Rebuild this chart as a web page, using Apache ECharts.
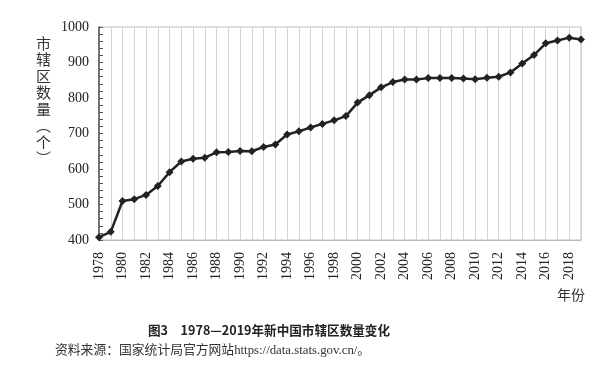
<!DOCTYPE html>
<html><head><meta charset="utf-8">
<script src="https://cdn.jsdelivr.net/npm/echarts@6/dist/echarts.min.js"></script>
<style>html,body{margin:0;padding:0;background:#fff}#c{width:614px;height:371px}</style>
</head><body><div id="c"></div>
<script>
var years = [];
for (var y = 1978; y <= 2019; y++) years.push(String(y));
var counts = [408, 423, 510, 515, 527, 552, 591, 621, 629, 632, 647, 648, 651, 650, 662, 669, 697, 706, 717, 727, 737, 749, 787, 808, 830, 845, 852, 852, 856, 856, 856, 855, 853, 857, 860, 872, 897, 921, 954, 962, 970, 965];
var yTicks = { min: 400, max: 1000, interval: 100 };
var yName = '市辖区数量︵个︶';
var xName = '年份';
var title = '图3　1978—2019年新中国市辖区数量变化';
var source = '资料来源：国家统计局官方网站https://data.stats.gov.cn/。';
var serif = '"Liberation Serif", "Noto Sans CJK SC", serif';

var chart = echarts.init(document.getElementById('c'), null, {renderer: 'canvas'});
chart.setOption({
  animation: false,
  backgroundColor: '#fff',
  grid: { left: 99, right: 33, top: 27, bottom: 131, show: true, borderColor: '#bbbbbb', borderWidth: 1 },
  xAxis: {
    type: 'category', data: years, boundaryGap: false,
    axisLine: { show: true, lineStyle: { color: '#bbbbbb', width: 1 } },
    axisTick: { show: false },
    axisLabel: { interval: 1, rotate: 90, margin: 12, fontFamily: serif, fontSize: 14, color: '#222' },
    splitLine: { show: true, interval: 0, lineStyle: { color: '#d4d4d4', width: 1, type: 'solid' } }
  },
  yAxis: {
    type: 'value', min: yTicks.min, max: yTicks.max, interval: yTicks.interval,
    axisLine: { show: true, lineStyle: { color: '#555555', width: 1.5 } },
    axisTick: { show: true, inside: true, length: 4, lineStyle: { color: '#555555', width: 1 } },
    minorTick: { show: true, splitNumber: 5, length: 4, lineStyle: { color: '#555555', width: 1 } },
    axisLabel: { margin: 10, fontFamily: serif, fontSize: 14, color: '#222', formatter: function (v) { return String(v); } },
    splitLine: { show: false }
  },
  series: [{
    type: 'line', data: counts,
    symbol: 'diamond', symbolSize: 8, showSymbol: true, showAllSymbol: true,
    lineStyle: { color: '#222', width: 2.5 },
    itemStyle: { color: '#222' }
  }],
  graphic: [
    { type: 'text', left: 36, top: 35, style: { text: yName.split('').join('\n'), fontFamily: 'Noto Sans CJK SC', fontSize: 15, lineHeight: 16.5, fill: '#333' } },
    { type: 'text', left: 557, top: 288, style: { text: xName, fontFamily: 'Noto Sans CJK SC', fontSize: 14, fill: '#333' } },
    { type: 'text', left: 148, top: 324, style: { text: title, fontFamily: 'Noto Sans CJK SC', fontSize: 12.6, fontWeight: 'bold', fill: '#222' } },
    { type: 'text', left: 55, top: 344, style: { text: source, fontFamily: serif, fontSize: 12.8, fill: '#333' } }
  ]
});
</script></body></html>
